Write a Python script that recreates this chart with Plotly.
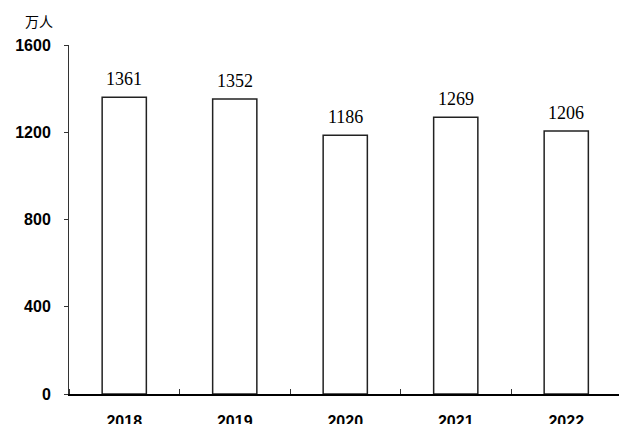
import plotly.graph_objects as go

years = ["2018", "2019", "2020", "2021", "2022"]
values = [1361, 1352, 1186, 1269, 1206]
y_ticks = [0, 400, 800, 1200, 1600]
unit_label = "万人"

xpos = list(range(len(years)))

W, H = 619, 424
ml, mr, mt, mb = 69, 0, 45, 30
pw, ph = W - ml - mr, H - mt - mb

fig = go.Figure()
fig.add_trace(go.Bar(
    x=xpos, y=values, width=0.4,
    marker=dict(color="white", line=dict(color="#222222", width=1.5)),
    hoverinfo="skip",
))

for x, v in zip(xpos, values):
    fig.add_annotation(
        x=x, y=v, xref="x", yref="y", text=str(v), showarrow=False,
        yanchor="bottom", yshift=6,
        font=dict(family="Liberation Serif, Times New Roman, serif", size=18, color="black"),
    )

fig.add_annotation(
    x=(39 - ml) / pw, y=(H - mb - 21) / ph, xref="paper", yref="paper",
    xanchor="center", yanchor="middle",
    text=unit_label, showarrow=False,
    font=dict(family="Noto Sans CJK SC, sans-serif", size=14, color="black"),
)

fig.update_layout(
    width=W, height=H,
    margin=dict(l=ml, r=mr, t=mt, b=mb, pad=0, autoexpand=False),
    plot_bgcolor="white", paper_bgcolor="white",
    showlegend=False,
    xaxis=dict(
        range=[-0.5, -0.5 + pw / 110.5],
        tickmode="array", tickvals=xpos, ticktext=years,
        ticks="", showgrid=False, zeroline=False,
        showline=True, linecolor="black", linewidth=2,
        ticklabelstandoff=12, automargin=False,
        tickfont=dict(family="Liberation Sans, Arial, sans-serif", size=16, color="black", weight="bold"),
        minor=dict(tickmode="linear", tick0=0.5, dtick=1, ticks="inside", ticklen=5,
                   tickcolor="#333333", tickwidth=1, showgrid=False),
    ),
    yaxis=dict(
        range=[0, 1600], tickmode="array", tickvals=y_ticks,
        ticktext=[str(t) for t in y_ticks],
        ticks="outside", ticklen=4, tickcolor="#333333", tickwidth=1,
        showgrid=False, zeroline=False,
        showline=True, linecolor="#333333", linewidth=1,
        ticklabelstandoff=10, automargin=False,
        tickfont=dict(family="Liberation Sans, Arial, sans-serif", size=16, color="black", weight="bold"),
    ),
)

fig.write_html(
    "out.html",
    config={"displayModeBar": False},
    post_script="document.body.style.margin='0';document.body.style.overflow='hidden';",
)
